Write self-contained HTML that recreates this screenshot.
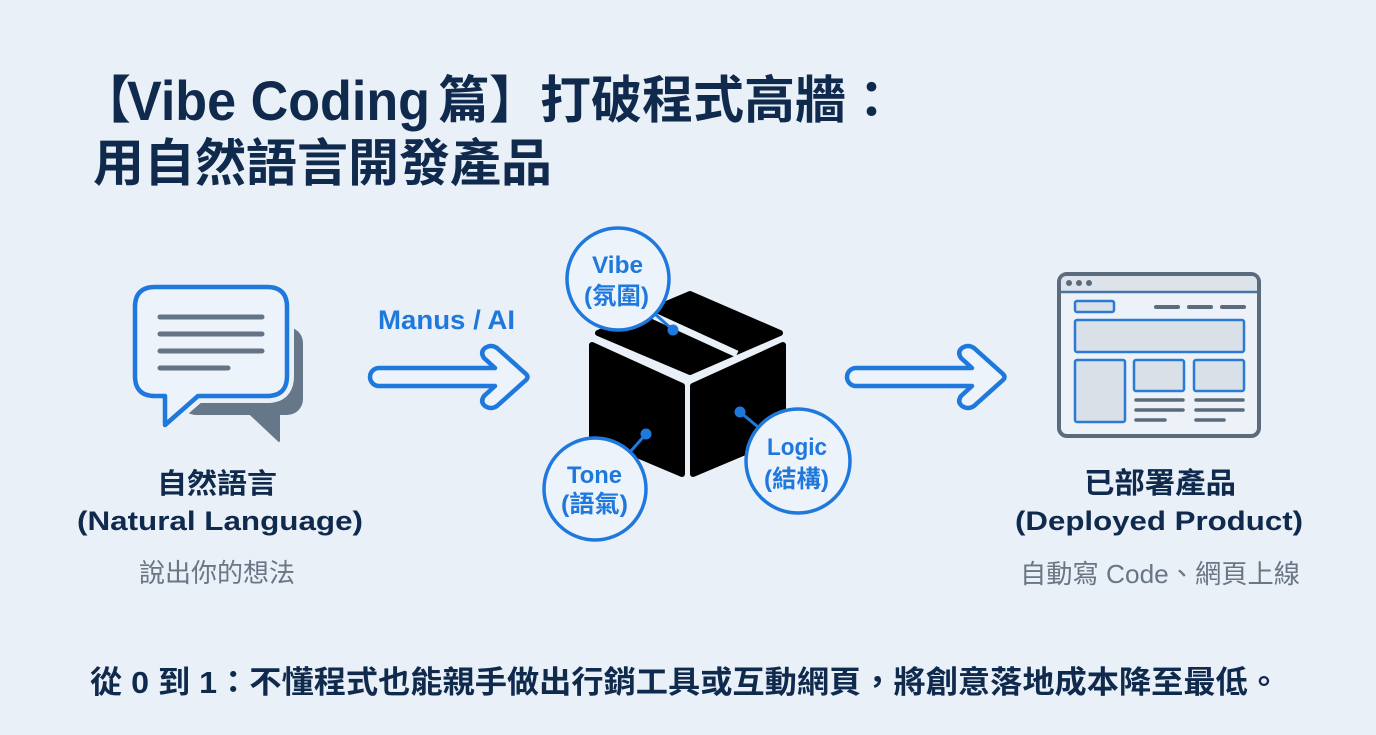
<!DOCTYPE html>
<html>
<head>
<meta charset="utf-8">
<style>
  html,body{margin:0;padding:0;background:#e9f0f8;}
  svg{display:block;}
</style>
</head>
<body>
<svg width="1376" height="735" viewBox="0 0 1376 735" xmlns="http://www.w3.org/2000/svg">
  <rect x="0" y="0" width="1376" height="735" fill="#e9f0f8"/>

  <!-- Title -->
  <g fill="#0f2a4c" font-weight="bold">
    <text x="80" y="118" font-size="51" font-family="Liberation Sans, Noto Sans CJK TC, sans-serif">【</text>
    <text x="127" y="120" font-size="56" textLength="303" lengthAdjust="spacingAndGlyphs" font-family="Liberation Sans, sans-serif">Vibe Coding</text>
    <text x="438" y="118" font-size="51" textLength="459" lengthAdjust="spacingAndGlyphs" font-family="Liberation Sans, Noto Sans CJK TC, sans-serif">篇】打破程式高牆：</text>
    <text x="93" y="181" font-size="51" textLength="459" lengthAdjust="spacingAndGlyphs" font-family="Liberation Sans, Noto Sans CJK TC, sans-serif">用自然語言開發產品</text>
  </g>

  <!-- Speech bubble back (grey) -->
  <rect x="180" y="327" width="123" height="88" rx="16" fill="#67778a"/>
  <path d="M246,410 L279,441 L279,410 Z" fill="#67778a" stroke="#67778a" stroke-width="2" stroke-linejoin="round"/>
  <!-- Front bubble -->
  <path d="M155,287 H267 Q287,287 287,307 V376 Q287,396 267,396 H198 L165,425 V396 H155 Q135,396 135,376 V307 Q135,287 155,287 Z" fill="#e9f0f8" stroke="#e9f0f8" stroke-width="14" stroke-linejoin="round"/>
  <path d="M155,287 H267 Q287,287 287,307 V376 Q287,396 267,396 H198 L165,425 V396 H155 Q135,396 135,376 V307 Q135,287 155,287 Z" fill="#edf3fa" stroke="#1f78dc" stroke-width="4.5" stroke-linejoin="round"/>
  <g stroke="#647386" stroke-width="5" stroke-linecap="round">
    <line x1="160" y1="317" x2="262" y2="317"/>
    <line x1="160" y1="334" x2="262" y2="334"/>
    <line x1="160" y1="351" x2="262" y2="351"/>
    <line x1="160" y1="368" x2="228" y2="368"/>
  </g>

  <!-- Left labels -->
  <text x="157" y="493" font-size="28" font-weight="bold" fill="#0f2a4c" textLength="120" lengthAdjust="spacingAndGlyphs" font-family="Liberation Sans, Noto Sans CJK TC, sans-serif">自然語言</text>
  <text x="77" y="530" font-size="27" font-weight="bold" fill="#0f2a4c" textLength="286" lengthAdjust="spacingAndGlyphs" font-family="Liberation Sans, sans-serif">(Natural Language)</text>
  <text x="139" y="582" font-size="26" fill="#6a7685" textLength="156" lengthAdjust="spacingAndGlyphs" font-family="Liberation Sans, Noto Sans CJK TC, sans-serif">說出你的想法</text>

  <!-- Manus / AI -->
  <text x="378" y="329" font-size="27" font-weight="bold" fill="#1f78dc" textLength="137" lengthAdjust="spacingAndGlyphs" font-family="Liberation Sans, sans-serif">Manus / AI</text>

  <!-- Arrow 1 -->
  <path d="M379,368 H495 L484,358 Q480,352 485,348 Q491,344 497,348 L526,374 Q529,377 526,380 L497,406 Q491,410 485,406 Q480,402 484,396 L495,386 H379 A9,9 0 0 1 379,368 Z" fill="#edf3fa" stroke="#1f78dc" stroke-width="4.5" stroke-linejoin="round"/>
  <!-- Arrow 2 -->
  <path d="M379,368 H495 L484,358 Q480,352 485,348 Q491,344 497,348 L526,374 Q529,377 526,380 L497,406 Q491,410 485,406 Q480,402 484,396 L495,386 H379 A9,9 0 0 1 379,368 Z" transform="translate(477,0)" fill="#edf3fa" stroke="#1f78dc" stroke-width="4.5" stroke-linejoin="round"/>

  <!-- Box -->
  <g fill="#000" stroke="#000" stroke-width="6" stroke-linejoin="round">
    <polygon points="598,333 690,294 780,333 690,372"/>
    <polygon points="592,345 682,386 682,474 592,436"/>
    <polygon points="693,386 783,345 783,436 693,474"/>
  </g>
  <line x1="630" y1="305" x2="737" y2="354" stroke="#e9f0f8" stroke-width="7"/>

  <!-- Connectors -->
  <g stroke="#1f78dc" stroke-width="3">
    <line x1="655" y1="314" x2="673" y2="330"/>
    <line x1="630" y1="452" x2="646" y2="434"/>
    <line x1="758" y1="427" x2="740" y2="412"/>
  </g>
  <g fill="#1f78dc">
    <circle cx="673" cy="330" r="5.5"/>
    <circle cx="646" cy="434" r="5.5"/>
    <circle cx="740" cy="412" r="5.5"/>
  </g>

  <!-- Circles -->
  <g fill="#edf3fa" stroke="#1f78dc" stroke-width="3.5">
    <circle cx="618" cy="279" r="51"/>
    <circle cx="595" cy="489" r="51"/>
    <circle cx="798" cy="461" r="52"/>
  </g>
  <g fill="#1f78dc" font-weight="bold" font-family="Liberation Sans, Noto Sans CJK TC, sans-serif">
    <text x="592" y="273" font-size="24" textLength="51" lengthAdjust="spacingAndGlyphs">Vibe</text>
    <text x="584" y="304" font-size="24" textLength="65" lengthAdjust="spacingAndGlyphs">(氛圍)</text>
    <text x="567" y="483" font-size="24" textLength="55" lengthAdjust="spacingAndGlyphs">Tone</text>
    <text x="561" y="512" font-size="24" textLength="67" lengthAdjust="spacingAndGlyphs">(語氣)</text>
    <text x="767" y="455" font-size="24" textLength="60" lengthAdjust="spacingAndGlyphs">Logic</text>
    <text x="764" y="487" font-size="24" textLength="65" lengthAdjust="spacingAndGlyphs">(結構)</text>
  </g>

  <!-- Browser window -->
  <rect x="1059" y="274" width="200" height="162" rx="8" fill="#edf2f8" stroke="#5b6b7e" stroke-width="4"/>
  <path d="M1061,292 V282 Q1061,276 1067,276 H1251 Q1257,276 1257,282 V292 Z" fill="#dce3eb"/>
  <line x1="1061" y1="292" x2="1257" y2="292" stroke="#4a74a8" stroke-width="2.5"/>
  <g fill="#5b6b7e">
    <circle cx="1069" cy="283" r="3"/>
    <circle cx="1079" cy="283" r="3"/>
    <circle cx="1089" cy="283" r="3"/>
  </g>
  <g fill="#d9e0e8" stroke="#2b7ad6" stroke-width="2.5">
    <rect x="1075" y="301" width="39" height="11" rx="2"/>
    <rect x="1075" y="320" width="169" height="32" rx="2"/>
    <rect x="1075" y="360" width="50" height="62" rx="2"/>
    <rect x="1134" y="360" width="50" height="31" rx="2"/>
    <rect x="1194" y="360" width="50" height="31" rx="2"/>
  </g>
  <g stroke="#5b6b7e" stroke-linecap="round">
    <line x1="1156" y1="307" x2="1178" y2="307" stroke-width="4"/>
    <line x1="1189" y1="307" x2="1211" y2="307" stroke-width="4"/>
    <line x1="1222" y1="307" x2="1244" y2="307" stroke-width="4"/>
    <line x1="1136" y1="400" x2="1183" y2="400" stroke-width="3.5"/>
    <line x1="1136" y1="410" x2="1183" y2="410" stroke-width="3.5"/>
    <line x1="1136" y1="420" x2="1165" y2="420" stroke-width="3.5"/>
    <line x1="1196" y1="400" x2="1243" y2="400" stroke-width="3.5"/>
    <line x1="1196" y1="410" x2="1243" y2="410" stroke-width="3.5"/>
    <line x1="1196" y1="420" x2="1224" y2="420" stroke-width="3.5"/>
  </g>

  <!-- Right labels -->
  <text x="1084" y="493" font-size="29" font-weight="bold" fill="#0f2a4c" textLength="152" lengthAdjust="spacingAndGlyphs" font-family="Liberation Sans, Noto Sans CJK TC, sans-serif">已部署產品</text>
  <text x="1015" y="530" font-size="27" font-weight="bold" fill="#0f2a4c" textLength="288" lengthAdjust="spacingAndGlyphs" font-family="Liberation Sans, sans-serif">(Deployed Product)</text>
  <text x="1020" y="583" font-size="26" fill="#6a7685" textLength="280" lengthAdjust="spacingAndGlyphs" font-family="Liberation Sans, Noto Sans CJK TC, sans-serif">自動寫 Code、網頁上線</text>

  <!-- Bottom line -->
  <text x="90" y="693" font-size="31" font-weight="bold" fill="#0f2a4c" textLength="1190" lengthAdjust="spacingAndGlyphs" font-family="Liberation Sans, Noto Sans CJK TC, sans-serif">從 0 到 1：不懂程式也能親手做出行銷工具或互動網頁，將創意落地成本降至最低。</text>
</svg>
</body>
</html>
